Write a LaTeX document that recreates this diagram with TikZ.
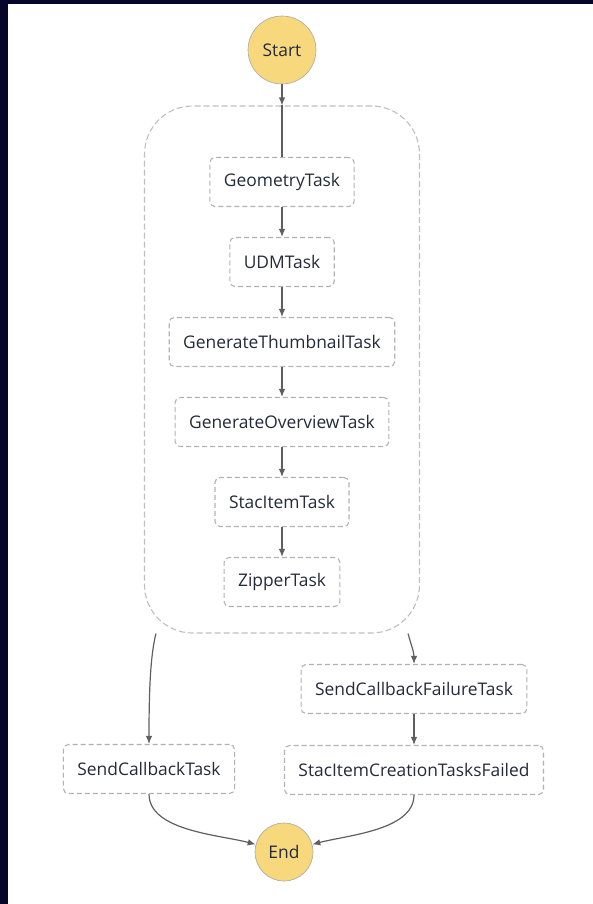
\documentclass[tikz,border=0pt]{standalone}
\usepackage{fontspec}
\setmainfont{Open Sans}
\usetikzlibrary{positioning}
\usetikzlibrary{calc}
\usetikzlibrary{arrows.meta}
\definecolor{navy}{RGB}{6,6,42}
\definecolor{termfill}{RGB}{248,216,125}
\definecolor{boxline}{RGB}{178,178,178}
\definecolor{flowgray}{RGB}{95,95,95}
\definecolor{textgray}{RGB}{35,42,58}
\tikzset{>={Latex[length=8pt,width=6.5pt]}}
\tikzset{state/.style={rectangle, rounded corners=5pt, draw=boxline, dash pattern=on 5pt off 3pt, line width=1.1pt, minimum height=49pt, inner xsep=14pt, text=textgray, font=\fontsize{17.4}{20}\selectfont}}
\tikzset{terminal/.style={circle, draw=gray!70, fill=termfill, line width=0.6pt, inner sep=0pt, text=textgray, font=\fontsize{17.4}{20}\selectfont}}
\tikzset{group/.style={rectangle, rounded corners=48pt, draw=boxline!85, dash pattern=on 6pt off 3pt, line width=1.1pt}}
\tikzset{flow/.style={->, draw=flowgray, line width=1.2pt}}

\begin{document}
\begin{tikzpicture}[x=1pt,y=1pt]

    \useasboundingbox (0,0) rectangle (593,-904);
    \fill [navy] (0,0) rectangle (8,-904);
    \fill [navy] (0,0) rectangle (593,-4);

    % Nodes
    \node [terminal, minimum size=68pt] (start) at (282,-50) {Start};
    \node [group, minimum width=275pt, minimum height=527pt] (group) at (282,-369.5) {};
    \node [state] (geometry) at (282,-182) {GeometryTask};
    \node [state] (udm) at ($(geometry) + (0,-80)$) {UDMTask};
    \node [state] (thumbnail) at ($(udm) + (0,-80)$) {GenerateThumbnailTask};
    \node [state] (overview) at ($(thumbnail) + (0,-80)$) {GenerateOverviewTask};
    \node [state] (stacitem) at ($(overview) + (0,-80)$) {StacItemTask};
    \node [state] (zipper) at ($(stacitem) + (0,-80)$) {ZipperTask};
    \node [state] (callbackfailure) at (414,-689) {SendCallbackFailureTask};
    \node [state] (creationfailed) at ($(callbackfailure) + (0,-81)$) {StacItemCreationTasksFailed};
    \node [state] (callback) at (149,-769) {SendCallbackTask};
    \node [terminal, minimum size=58pt] (end) at (284,-852) {End};

    % Exits of the group
    \coordinate (group-out-west) at ($(group.south west) + (12,0)$);
    \coordinate (group-out-east) at ($(group.south east) + (-12,0)$);

    % Arrows between nodes
    \draw [flow] (start) -- (group.north);
    \draw [flow,-] (group.north) -- (geometry);
    \draw [flow] (geometry) -- (udm);
    \draw [flow] (udm) -- (thumbnail);
    \draw [flow] (thumbnail) -- (overview);
    \draw [flow] (overview) -- (stacitem);
    \draw [flow] (stacitem) -- (zipper);
    \draw [flow] (group-out-west) .. controls +(-5,-20) and +(0,60) .. (callback.north);
    \draw [flow] (group-out-east) to [out=-75,in=90] (callbackfailure);
    \draw [flow] (callbackfailure) -- (creationfailed);
    \draw [flow] (callback) to [out=-90,in=165,looseness=0.8] (end);
    \draw [flow] (creationfailed) to [out=-90,in=15,looseness=0.8] (end);

\end{tikzpicture}
\end{document}
